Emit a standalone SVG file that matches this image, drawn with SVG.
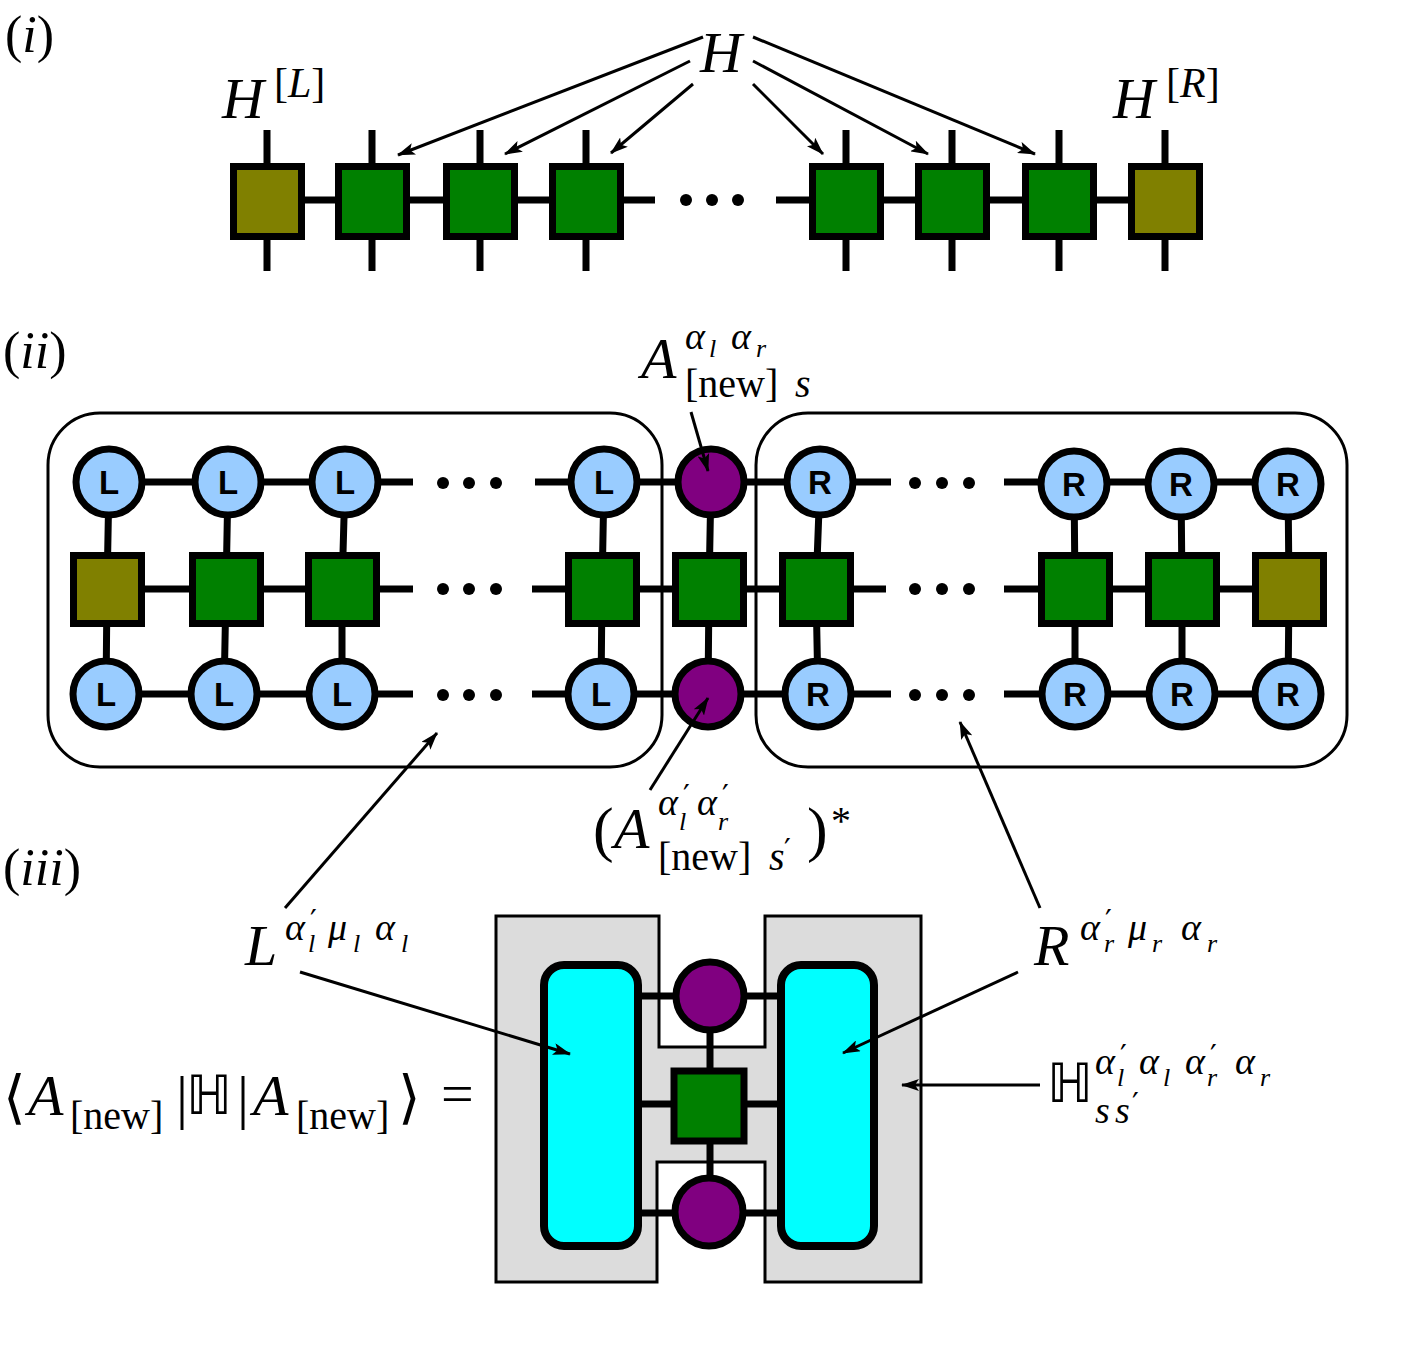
<svg xmlns="http://www.w3.org/2000/svg" width="1406" height="1346" viewBox="0 0 1406 1346">
<defs>
<style>
.m{font-family:"Liberation Serif","DejaVu Serif",serif;fill:#000}
.i{font-style:italic}
.p{font-family:"DejaVu Serif",serif;font-style:normal;font-size:30px}
.bb{font-family:"DejaVu Sans","DejaVu Serif",sans-serif}
.lbl{font-family:"Liberation Sans",Arial,sans-serif;font-weight:bold;font-size:33px;text-anchor:middle;fill:#000}
.bond{stroke:#000;stroke-width:7;fill:none}
.arr{stroke:#000;stroke-width:3;fill:none;marker-end:url(#ah)}
.sq{stroke:#000;stroke-width:7}
.g{fill:#008000}
.o{fill:#808000}
.c{stroke:#000;stroke-width:7}
.lb{fill:#99ccff}
.pu{fill:#800080}
.dot{fill:#000}
</style>
<marker id="ah" markerUnits="userSpaceOnUse" markerWidth="18" markerHeight="12" refX="17" refY="6" orient="auto">
<path d="M0,0 L18,6 L0,12 L4,6 z" fill="#000"/>
</marker>
</defs>
<rect width="1406" height="1346" fill="#fff"/>

<!-- containers -->
<g id="box-left"><rect x="48" y="413" width="614" height="354" rx="52" fill="none" stroke="#000" stroke-width="3"/></g>
<g id="box-right"><rect x="756" y="413" width="591" height="354" rx="52" fill="none" stroke="#000" stroke-width="3"/></g>
<g id="H-env"><polygon points="496,916 659,916 659,1047 765,1047 765,916 921,916 921,1282 765,1282 765,1162 657,1162 657,1282 496,1282" fill="#dcdcdc" stroke="#000" stroke-width="3"/></g>

<g id="bonds">
<path class="bond" d="M267,200 H655 M776,200 H1165"/>
<path class="bond" d="M267,130 V271 M372,130 V271 M480,130 V271 M586,130 V271 M846,130 V271 M952,130 V271 M1059,130 V271 M1165,130 V271"/>
<path class="bond" d="M109,482 H413 M535,482 H891 M1004,482 H1288"/>
<path class="bond" d="M107,589 H413 M532,589 H886 M1004,589 H1289"/>
<path class="bond" d="M106,694 H413 M532,694 H891 M1004,694 H1288"/>
<path class="bond" d="M109,482 L107,589 L106,694 M228,482 L226,589 L224,694 M345,482 L342,589 L342,694 M604,482 L602,589 L601,694 M711,482 L709,589 L708,694 M820,482 L816,589 L818,694 M1074,482 L1075,589 L1075,694 M1181,482 L1182,589 L1182,694 M1288,482 L1289,589 L1288,694"/>
<path class="bond" d="M640,996 H780 M640,1104 H780 M640,1213 H780 M710,996 V1212"/>
</g>

<!-- (i) chain -->
<g id="i-HL"><rect class="sq o" x="233.5" y="166.5" width="68" height="70"/></g>
<g id="i-H1"><rect class="sq g" x="338.5" y="166.5" width="68" height="70"/></g>
<g id="i-H2"><rect class="sq g" x="446.5" y="166.5" width="68" height="70"/></g>
<g id="i-H3"><rect class="sq g" x="552.5" y="166.5" width="68" height="70"/></g>
<g id="i-dots"><circle class="dot" cx="686" cy="200" r="6"/><circle class="dot" cx="712" cy="200" r="6"/><circle class="dot" cx="738" cy="200" r="6"/></g>
<g id="i-H4"><rect class="sq g" x="812.5" y="166.5" width="68" height="70"/></g>
<g id="i-H5"><rect class="sq g" x="918.5" y="166.5" width="68" height="70"/></g>
<g id="i-H6"><rect class="sq g" x="1025.5" y="166.5" width="68" height="70"/></g>
<g id="i-HR"><rect class="sq o" x="1131.5" y="166.5" width="68" height="70"/></g>

<!-- (ii) top row -->
<g id="ii-Lt1"><circle class="c lb" cx="109" cy="482" r="33"/><text class="lbl" x="109" y="494">L</text></g>
<g id="ii-Lt2"><circle class="c lb" cx="228" cy="482" r="33"/><text class="lbl" x="228" y="494">L</text></g>
<g id="ii-Lt3"><circle class="c lb" cx="345" cy="482" r="33"/><text class="lbl" x="345" y="494">L</text></g>
<g id="ii-Lt4"><circle class="c lb" cx="604" cy="482" r="33"/><text class="lbl" x="604" y="494">L</text></g>
<g id="ii-At"><circle class="c pu" cx="711" cy="482" r="33"/></g>
<g id="ii-Rt1"><circle class="c lb" cx="820" cy="482" r="33"/><text class="lbl" x="820" y="494">R</text></g>
<g id="ii-Rt2"><circle class="c lb" cx="1074" cy="484" r="33"/><text class="lbl" x="1074" y="496">R</text></g>
<g id="ii-Rt3"><circle class="c lb" cx="1181" cy="484" r="33"/><text class="lbl" x="1181" y="496">R</text></g>
<g id="ii-Rt4"><circle class="c lb" cx="1288" cy="484" r="33"/><text class="lbl" x="1288" y="496">R</text></g>
<g id="ii-dots-t"><circle class="dot" cx="443" cy="483" r="6"/><circle class="dot" cx="469" cy="483" r="6"/><circle class="dot" cx="496" cy="483" r="6"/><circle class="dot" cx="915" cy="483" r="6"/><circle class="dot" cx="942" cy="483" r="6"/><circle class="dot" cx="969" cy="483" r="6"/></g>

<!-- (ii) middle row -->
<g id="ii-HL"><rect class="sq o" x="73.5" y="555.5" width="68" height="68"/></g>
<g id="ii-Hm1"><rect class="sq g" x="192.5" y="555.5" width="68" height="68"/></g>
<g id="ii-Hm2"><rect class="sq g" x="308.5" y="555.5" width="68" height="68"/></g>
<g id="ii-Hm3"><rect class="sq g" x="568.5" y="555.5" width="68" height="68"/></g>
<g id="ii-Hm4"><rect class="sq g" x="675.5" y="555.5" width="68" height="68"/></g>
<g id="ii-Hm5"><rect class="sq g" x="782.5" y="555.5" width="68" height="68"/></g>
<g id="ii-Hm6"><rect class="sq g" x="1041.5" y="555.5" width="68" height="68"/></g>
<g id="ii-Hm7"><rect class="sq g" x="1148.5" y="555.5" width="68" height="68"/></g>
<g id="ii-HR"><rect class="sq o" x="1255.5" y="555.5" width="68" height="68"/></g>
<g id="ii-dots-m"><circle class="dot" cx="443" cy="589" r="6"/><circle class="dot" cx="469" cy="589" r="6"/><circle class="dot" cx="496" cy="589" r="6"/><circle class="dot" cx="915" cy="589" r="6"/><circle class="dot" cx="942" cy="589" r="6"/><circle class="dot" cx="969" cy="589" r="6"/></g>

<!-- (ii) bottom row -->
<g id="ii-Lb1"><circle class="c lb" cx="106" cy="694" r="33"/><text class="lbl" x="106" y="706">L</text></g>
<g id="ii-Lb2"><circle class="c lb" cx="224" cy="694" r="33"/><text class="lbl" x="224" y="706">L</text></g>
<g id="ii-Lb3"><circle class="c lb" cx="342" cy="694" r="33"/><text class="lbl" x="342" y="706">L</text></g>
<g id="ii-Lb4"><circle class="c lb" cx="601" cy="694" r="33"/><text class="lbl" x="601" y="706">L</text></g>
<g id="ii-Ab"><circle class="c pu" cx="708" cy="694" r="33"/></g>
<g id="ii-Rb1"><circle class="c lb" cx="818" cy="694" r="33"/><text class="lbl" x="818" y="706">R</text></g>
<g id="ii-Rb2"><circle class="c lb" cx="1075" cy="694" r="33"/><text class="lbl" x="1075" y="706">R</text></g>
<g id="ii-Rb3"><circle class="c lb" cx="1182" cy="694" r="33"/><text class="lbl" x="1182" y="706">R</text></g>
<g id="ii-Rb4"><circle class="c lb" cx="1288" cy="694" r="33"/><text class="lbl" x="1288" y="706">R</text></g>
<g id="ii-dots-b"><circle class="dot" cx="443" cy="695" r="6"/><circle class="dot" cx="469" cy="695" r="6"/><circle class="dot" cx="496" cy="695" r="6"/><circle class="dot" cx="915" cy="695" r="6"/><circle class="dot" cx="942" cy="695" r="6"/><circle class="dot" cx="969" cy="695" r="6"/></g>

<!-- (iii) -->
<g id="iii-L"><rect x="544" y="965" width="94" height="281" rx="20" fill="#00ffff" stroke="#000" stroke-width="8"/></g>
<g id="iii-R"><rect x="781" y="965" width="93" height="281" rx="20" fill="#00ffff" stroke="#000" stroke-width="8"/></g>
<g id="iii-At"><circle class="c pu" cx="710" cy="996" r="34"/></g>
<g id="iii-H"><rect class="sq g" x="674" y="1071" width="70" height="70"/></g>
<g id="iii-Ab"><circle class="c pu" cx="709" cy="1212" r="34"/></g>

<g id="connectors">
<line class="arr" x1="703" y1="37" x2="398" y2="155"/>
<line class="arr" x1="690" y1="61" x2="505" y2="154"/>
<line class="arr" x1="693" y1="84" x2="611" y2="153"/>
<line class="arr" x1="753" y1="37" x2="1035" y2="154"/>
<line class="arr" x1="753" y1="61" x2="928" y2="154"/>
<line class="arr" x1="753" y1="84" x2="823" y2="154"/>
<line class="arr" x1="691" y1="412" x2="708" y2="471"/>
<line class="arr" x1="650" y1="790" x2="708" y2="698"/>
<line class="arr" x1="285" y1="908" x2="437" y2="733"/>
<line class="arr" x1="1040" y1="908" x2="960" y2="722"/>
<line class="arr" x1="300" y1="972" x2="570" y2="1054"/>
<line class="arr" x1="1018" y1="972" x2="843" y2="1053"/>
<line class="arr" x1="1040" y1="1085" x2="902" y2="1085"/>
</g>

<!-- labels -->
<g id="labels">
<text class="m" x="5" y="52" font-size="52">(<tspan class="i">i</tspan>)</text>
<text class="m" x="3" y="368" font-size="52">(<tspan class="i">ii</tspan>)</text>
<text class="m" x="3" y="885" font-size="52">(<tspan class="i">iii</tspan>)</text>

<text class="m i" x="700" y="72" font-size="58">H</text>
<text class="m i" x="222" y="118" font-size="58">H</text>
<text class="m" x="274" y="97" font-size="42">[<tspan class="i">L</tspan>]</text>
<text class="m i" x="1113" y="118" font-size="58">H</text>
<text class="m" x="1166" y="97" font-size="42">[<tspan class="i">R</tspan>]</text>

<!-- A new s -->
<text class="m i" x="641" y="378" font-size="58">A</text>
<text class="m i" font-size="38"><tspan x="685" y="349">α</tspan><tspan x="709" y="357" font-size="26">l</tspan><tspan x="731" y="349">α</tspan><tspan x="756" y="357" font-size="26">r</tspan></text>
<text class="m" x="685" y="397" font-size="40">[new]<tspan class="i" x="795">s</tspan></text>

<!-- (A*) -->
<text class="m" x="593" y="850" font-size="62">(</text>
<text class="m i" x="614" y="848" font-size="58">A</text>
<text class="m i" font-size="38"><tspan x="658" y="815">α</tspan><tspan class="p" x="683" y="806">′</tspan><tspan x="679" y="830" font-size="26">l</tspan><tspan x="697" y="815">α</tspan><tspan class="p" x="722" y="806">′</tspan><tspan x="718" y="830" font-size="26">r</tspan></text>
<text class="m" x="658" y="870" font-size="40">[new]<tspan class="i" x="769">s</tspan><tspan class="p" x="784" y="860">′</tspan></text>
<text class="m" x="807" y="850" font-size="62">)</text>
<text class="m" x="831" y="834" font-size="40">*</text>

<!-- L env -->
<text class="m i" x="245" y="965" font-size="58">L</text>
<text class="m i" font-size="38"><tspan x="285" y="940">α</tspan><tspan class="p" x="310" y="931">′</tspan><tspan x="308" y="952" font-size="26">l</tspan><tspan x="328" y="940">μ</tspan><tspan x="353" y="952" font-size="26">l</tspan><tspan x="375" y="940">α</tspan><tspan x="401" y="952" font-size="26">l</tspan></text>

<!-- R env -->
<text class="m i" x="1034" y="965" font-size="58">R</text>
<text class="m i" font-size="38"><tspan x="1080" y="940">α</tspan><tspan class="p" x="1105" y="931">′</tspan><tspan x="1104" y="952" font-size="26">r</tspan><tspan x="1128" y="940">μ</tspan><tspan x="1152" y="952" font-size="26">r</tspan><tspan x="1181" y="940">α</tspan><tspan x="1207" y="952" font-size="26">r</tspan></text>

<!-- Heff -->
<text class="bb" x="1047" y="1102" font-size="54">ℍ</text>
<text class="m i" font-size="38"><tspan x="1095" y="1074">α</tspan><tspan class="p" x="1120" y="1066">′</tspan><tspan x="1117" y="1086" font-size="26">l</tspan><tspan x="1139" y="1074">α</tspan><tspan x="1163" y="1086" font-size="26">l</tspan><tspan x="1185" y="1074">α</tspan><tspan class="p" x="1210" y="1066">′</tspan><tspan x="1207" y="1086" font-size="26">r</tspan><tspan x="1235" y="1074">α</tspan><tspan x="1260" y="1086" font-size="26">r</tspan></text>
<text class="m i" font-size="38"><tspan x="1095" y="1123">s</tspan><tspan x="1115" y="1123">s</tspan><tspan class="p" x="1132" y="1114">′</tspan></text>

<!-- equation -->
<text class="bb" x="3" y="1117" font-size="58">⟨</text>
<text class="m i" x="28" y="1115" font-size="58">A</text>
<text class="m" x="70" y="1129" font-size="40">[new]</text>
<text class="m" x="176" y="1117" font-size="60">|</text>
<text class="bb" x="186" y="1114" font-size="54">ℍ</text>
<text class="m" x="237" y="1117" font-size="60">|</text>
<text class="m i" x="253" y="1115" font-size="58">A</text>
<text class="m" x="296" y="1129" font-size="40">[new]</text>
<text class="bb" x="398" y="1117" font-size="58">⟩</text>
<text class="m" x="441" y="1113" font-size="58">=</text>
</g>
</svg>
